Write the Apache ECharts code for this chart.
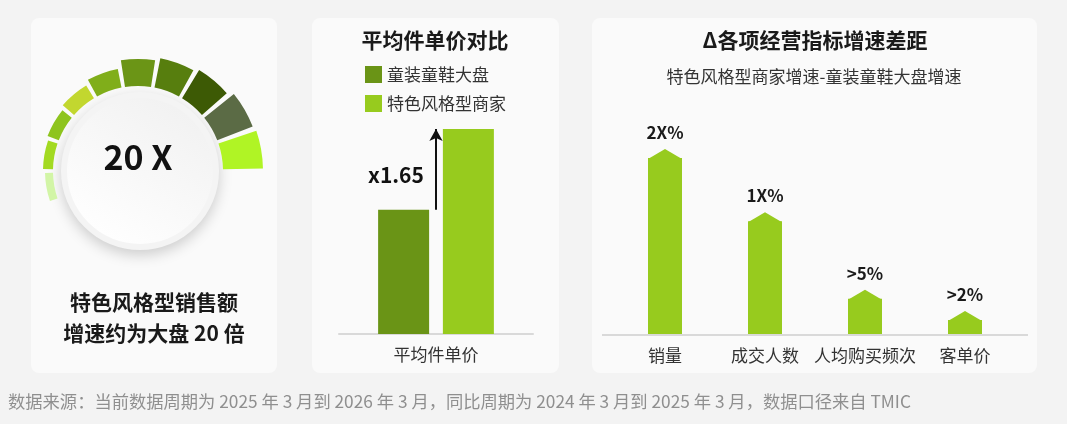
<!DOCTYPE html>
<html lang="zh">
<head>
<meta charset="UTF-8">
<title>特色风格型商家</title>
<script src="https://cdn.jsdelivr.net/npm/echarts@6/dist/echarts.min.js"></script>
<style>
  html, body { margin: 0; padding: 0; background: #f3f3f3; }
  #main { width: 1067px; height: 424px; }
</style>
</head>
<body>
<div id="main"></div>
<script>
// 左侧装饰弧段（厚度）
var gaugeValues = [8, 10, 12, 15, 19, 27, 30, 33, 38, 40];
var gaugeColors = ['#d2f5a6', '#a3da21', '#8ec41e', '#c2d72f', '#80ae1a', '#6b9516', '#577e0e', '#3d5a05', '#5b6b45', '#b0f425'];

// 平均件单价对比
var priceCategories = ['平均件单价'];
var priceNames = ['童装童鞋大盘', '特色风格型商家'];
var priceBase = [100];
var priceStyle = [165];

// 各项经营指标增速差距
var gapCategories = ['销量', '成交人数', '人均购买频次', '客单价'];
var gapValues = [25, 16, 5, 2];
var gapLabels = ['2X%', '1X%', '>5%', '>2%'];

var FONT = '"Noto Sans CJK SC", "Noto Sans", sans-serif';

// 极坐标需要 18 个角度类目，前 10 个放弧段
var angleCats = [];
for (var i = 0; i < 18; i++) angleCats.push('s' + i);

var myChart = echarts.init(document.getElementById('main'));

function panel(x, w) {
    return {
        type: 'rect', z: -10,
        shape: {x: x, y: 18, width: w, height: 355, r: 8},
        style: {fill: '#fafafa'}
    };
}
function txt(x, y, text, size, weight, color, align) {
    return {
        type: 'text', z: 10,
        x: x, y: y,
        style: {
            text: text, fontSize: size, fontWeight: weight, fill: color,
            fontFamily: FONT, align: align || 'center', verticalAlign: 'middle'
        }
    };
}

option = {
    backgroundColor: '#f3f3f3',
    textStyle: {fontFamily: FONT},
    animation: false,
    graphic: [
        panel(31, 246),
        panel(312, 247),
        panel(592, 445),
        {
            type: 'circle', z: 1,
            shape: {cx: 140, cy: 171, r: 79},
            style: {fill: '#f4f4f4', shadowBlur: 14, shadowOffsetY: 5, shadowColor: 'rgba(0,0,0,0.18)'}
        },
        {
            type: 'circle', z: 2,
            shape: {cx: 140, cy: 171, r: 73},
            style: {
                fill: new echarts.graphic.LinearGradient(0.8, 0, 0.2, 1, [
                    {offset: 0, color: '#f1f1f1'},
                    {offset: 1, color: '#ffffff'}
                ])
            }
        },
        txt(138, 157, '20 X', 34, 'bold', '#111'),
        txt(154, 302, '特色风格型销售额', 21, 'bold', '#1a1a1a'),
        txt(154, 333, '增速约为大盘 20 倍', 21, 'bold', '#1a1a1a'),
        txt(435, 40, '平均件单价对比', 21, 'bold', '#1a1a1a'),
        txt(815, 40, 'Δ各项经营指标增速差距', 21, 'bold', '#1a1a1a'),
        txt(814, 77, '特色风格型商家增速-童装童鞋大盘增速', 17, 'normal', '#333'),
        txt(8, 401, '数据来源：当前数据周期为 2025 年 3 月到 2026 年 3 月，同比周期为 2024 年 3 月到 2025 年 3 月，数据口径来自 TMIC', 17.3, 'normal', '#8f8f8f', 'left'),
        {
            type: 'line', z: 1,
            shape: {x1: 602, y1: 335, x2: 1028, y2: 335},
            style: {stroke: '#d9d9d9', lineWidth: 2}
        }
    ],
    legend: {
        orient: 'vertical',
        left: 365, top: 66, padding: 0,
        itemWidth: 17, itemHeight: 17, itemGap: 12,
        icon: 'rect',
        data: priceNames,
        textStyle: {fontSize: 17, color: '#333', fontFamily: FONT}
    },
    polar: {center: [138, 171], radius: [85, 125]},
    angleAxis: {
        type: 'category', data: angleCats, startAngle: 200, clockwise: true,
        show: false
    },
    radiusAxis: {type: 'value', min: 0, max: 40, show: false},
    grid: [
        {left: 339, width: 194, top: 129, bottom: 90},
        {left: 615, width: 400, top: 158, bottom: 90}
    ],
    xAxis: [{
        gridIndex: 0, type: 'category', data: priceCategories,
        axisLine: {lineStyle: {color: '#d9d9d9', width: 2}},
        axisTick: {show: false},
        axisLabel: {fontSize: 17, color: '#333', margin: 12}
    }, {
        gridIndex: 1, type: 'category', data: gapCategories,
        axisLine: {show: false},
        axisTick: {show: false},
        axisLabel: {fontSize: 17, color: '#333', margin: 13, interval: 0}
    }],
    yAxis: [
        {gridIndex: 0, type: 'value', min: 0, max: 165, show: false},
        {gridIndex: 1, type: 'value', min: 0, max: 25, show: false}
    ],
    series: [{
        type: 'bar',
        coordinateSystem: 'polar',
        data: gaugeValues,
        barCategoryGap: '12%',
        itemStyle: {
            color: function (p) { return gaugeColors[p.dataIndex]; }
        },
        silent: true
    }, {
        name: priceNames[0],
        type: 'bar', xAxisIndex: 0, yAxisIndex: 0,
        data: priceBase,
        barWidth: 51, barGap: '27%',
        itemStyle: {color: '#6a9416'}
    }, {
        name: priceNames[1],
        type: 'bar', xAxisIndex: 0, yAxisIndex: 0,
        data: priceStyle,
        barWidth: 51,
        itemStyle: {color: '#97cb1e'}
    }, {
        // 倍数箭头（不可见的折线只用来承载标注）
        type: 'line', xAxisIndex: 0, yAxisIndex: 0,
        data: priceStyle,
        showSymbol: false,
        lineStyle: {opacity: 0},
        silent: true,
        markLine: {
            silent: true,
            symbol: ['none', 'arrow'],
            symbolSize: [10, 12],
            lineStyle: {color: '#111', width: 2, type: 'solid'},
            label: {show: false},
            data: [[{coord: [0, priceBase[0]]}, {coord: [0, priceStyle[0]]}]]
        },
        markPoint: {
            silent: true,
            symbol: 'circle', symbolSize: 0,
            label: {
                show: true, position: 'inside', offset: [-40, 0],
                formatter: 'x' + (priceStyle[0] / priceBase[0]).toFixed(2),
                fontSize: 21, fontWeight: 'bold', color: '#111'
            },
            data: [{coord: [0, 128]}]
        }
    }, {
        type: 'bar', xAxisIndex: 1, yAxisIndex: 1,
        data: gapValues,
        barWidth: 34,
        itemStyle: {color: '#97cb1e'}
    }, {
        type: 'pictorialBar', xAxisIndex: 1, yAxisIndex: 1,
        data: gapValues,
        symbol: 'triangle',
        symbolSize: [34, 10],
        symbolPosition: 'end',
        symbolOffset: [0, -9],
        itemStyle: {color: '#97cb1e'},
        z: 3,
        label: {
            show: true, position: 'top', distance: 8,
            formatter: function (p) { return gapLabels[p.dataIndex]; },
            fontSize: 17, fontWeight: 'bold', color: '#1a1a1a'
        }
    }]
};
myChart.setOption(option);
</script>
</body>
</html>
